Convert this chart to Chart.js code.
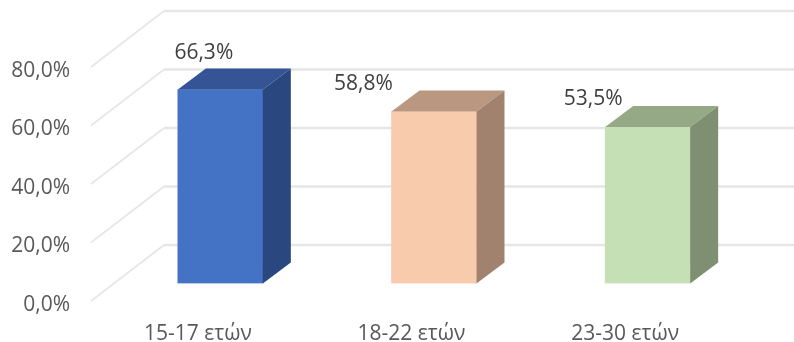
<!DOCTYPE html>
<html>
<head>
<meta charset="utf-8">
<style>
  html, body { margin: 0; padding: 0; background: #fff; }
  #wrap { width: 794px; height: 342px; }
  /* the reference is a slightly soft screenshot */
  #myChart { filter: blur(0.4px); }
</style>
<script src="https://cdn.jsdelivr.net/npm/chart.js@4/dist/chart.umd.min.js"></script>
</head>
<body>
<div id="wrap"><canvas id="myChart" width="794" height="342"></canvas></div>
<script>
const categories = ["15-17 ετών", "18-22 ετών", "23-30 ετών"];
const values = [66.3, 58.8, 53.5];
const valueLabels = ["66,3%", "58,8%", "53,5%"];
const tickValues = [0, 20, 40, 60, 80];

const frontColors = ["#4472c4", "#f8cbad", "#c5e0b4"];
const topColors = ["#345495", "#ba9781", "#95a987"];
const sideColors = ["#2a487f", "#a1826e", "#7e8f72"];

// hand placed in the original, relative to the bar's front top-left corner
const labelShift = [[26, -37], [-28, -27], [-12, -28]];

const wallDepth = [73, -56];
const barShift = [22.5, -17.5];
const barDepth = [28, -21];
const fontName = '"Open Sans", sans-serif';

const gridWall = {
  id: "gridWall",
  beforeDatasetsDraw(chart) {
    const { ctx, scales: { x, y } } = chart;
    ctx.save();
    ctx.lineCap = "butt";
    tickValues.forEach((v) => {
      const py = y.getPixelForValue(v);
      const bx = x.left + wallDepth[0];
      const by = py + wallDepth[1];
      ctx.strokeStyle = "#e6e6e6";
      ctx.lineWidth = 1.6;
      ctx.beginPath();
      ctx.moveTo(x.left, py);
      ctx.lineTo(bx, by);
      ctx.stroke();
      ctx.lineWidth = 2.4;
      ctx.beginPath();
      ctx.moveTo(bx, by);
      ctx.lineTo(x.right + wallDepth[0], by);
      ctx.stroke();
    });
    ctx.restore();
    // native bars get drawn on the middle plane of the floor
    ctx.save();
    ctx.translate(barShift[0], barShift[1]);
  },
  afterDatasetsDraw(chart) {
    const { ctx } = chart;
    const dx = barDepth[0];
    const dy = barDepth[1];
    chart.getDatasetMeta(0).data.forEach((bar, i) => {
      const left = bar.x - bar.width / 2;
      const right = bar.x + bar.width / 2;
      ctx.fillStyle = topColors[i];
      ctx.beginPath();
      ctx.moveTo(left, bar.y);
      ctx.lineTo(left + dx, bar.y + dy);
      ctx.lineTo(right + dx, bar.y + dy);
      ctx.lineTo(right, bar.y);
      ctx.closePath();
      ctx.fill();
      ctx.fillStyle = sideColors[i];
      ctx.beginPath();
      ctx.moveTo(right, bar.y);
      ctx.lineTo(right + dx, bar.y + dy);
      ctx.lineTo(right + dx, bar.base + dy);
      ctx.lineTo(right, bar.base);
      ctx.closePath();
      ctx.fill();
    });
    ctx.restore();

    ctx.save();
    ctx.font = "21px " + fontName;
    ctx.fillStyle = "#404040";
    ctx.textAlign = "center";
    ctx.textBaseline = "middle";
    chart.getDatasetMeta(0).data.forEach((bar, i) => {
      const left = bar.x + barShift[0] - bar.width / 2;
      const top = bar.y + barShift[1];
      ctx.fillText(valueLabels[i], left + labelShift[i][0], top + labelShift[i][1]);
    });
    ctx.restore();
  },
};

const myChart = new Chart(document.getElementById("myChart").getContext("2d"), {
  type: "bar",
  data: {
    labels: categories,
    datasets: [{
      data: values,
      backgroundColor: frontColors,
      borderWidth: 0,
      barThickness: 85,
    }],
  },
  options: {
    responsive: false,
    animation: false,
    layout: { padding: { left: 0, right: 62, top: 67, bottom: 0 } },
    plugins: { legend: { display: false }, tooltip: { enabled: false } },
    scales: {
      x: {
        grid: { display: false },
        border: { display: false },
        ticks: { color: "#595959", font: { family: fontName, size: 21 }, padding: 12, maxRotation: 0 },
        afterFit(axis) { axis.height = 41; },
      },
      y: {
        min: 0,
        max: 80,
        grid: { display: false },
        border: { display: false },
        afterBuildTicks(axis) { axis.ticks = tickValues.map((value) => ({ value })); },
        ticks: {
          color: "#595959",
          font: { family: fontName, size: 21 },
          padding: 13,
          labelOffset: 4,
          callback: (v) => v.toFixed(1).replace(".", ",") + "%",
        },
        afterFit(axis) { axis.width = 91; },
      },
    },
  },
  plugins: [gridWall],
});
</script>
</body>
</html>
